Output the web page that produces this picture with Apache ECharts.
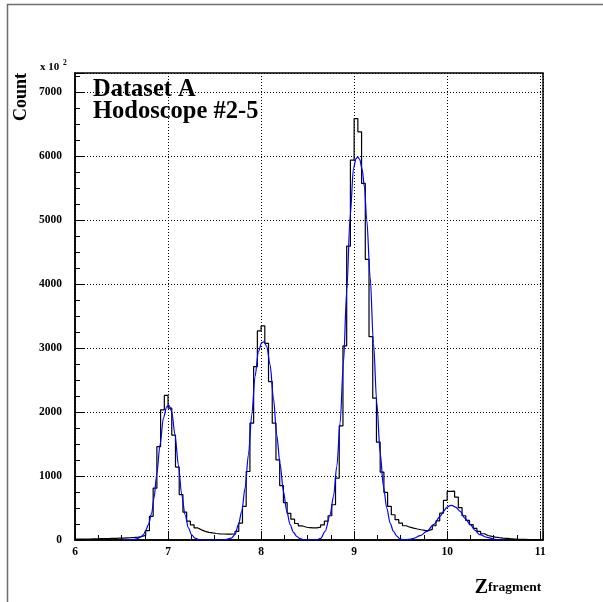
<!DOCTYPE html>
<html><head><meta charset="utf-8">
<script src="https://cdn.jsdelivr.net/npm/echarts@6/dist/echarts.min.js"></script>
<style>html,body{margin:0;padding:0;background:#fff}#c{width:603px;height:602px}</style>
</head><body><div id="c"></div>
<script>
// Histogram: bins of width 0.04 starting at 6.00
const binLow = 6.0;
const binWidth = 0.04;
const counts = [
  15, 15, 16, 16, 17, 18, 20, 20, 22, 24,
  26, 28, 30, 33, 36, 40, 45, 55, 72, 145,
  370, 810, 1460, 2035, 2260, 2060, 1640, 1140, 710, 435,
  295, 235, 188, 158, 135, 120, 110, 102, 97, 94,
  92, 92, 95, 134, 265, 525, 1071, 1826, 2711, 3268,
  3346, 3075, 2477, 1826, 1254, 850, 585, 415, 325, 258,
  222, 203, 192, 188, 190, 200, 235, 295, 379, 551,
  968, 1785, 3034, 4595, 5937, 6588, 6380, 5574, 4387, 3179,
  2217, 1530, 1062, 743, 525, 395, 317, 265, 223, 200,
  185, 172, 160, 150, 147, 165, 223, 300, 420, 620,
  759, 765, 671, 505, 379, 306, 239, 181, 134, 98,
  70, 56, 45, 36, 30, 25, 20, 16, 13, 11,
  9, 7, 6, 5, 4
];
// Fit curve
const fitX = [6.50, 6.58, 6.62, 6.66, 6.70, 6.735, 6.76, 6.789, 6.824, 6.849, 6.878, 6.914, 6.950, 6.986, 7.011, 7.039, 7.075, 7.111, 7.147, 7.183, 7.219, 7.254, 7.29, 7.33, 7.38, 7.45, 7.55, 7.62, 7.68, 7.72, 7.756, 7.792, 7.828, 7.864, 7.900, 7.935, 7.971, 8.007, 8.032, 8.061, 8.097, 8.133, 8.168, 8.204, 8.240, 8.276, 8.312, 8.348, 8.384, 8.42, 8.46, 8.50, 8.56, 8.60, 8.64, 8.688, 8.742, 8.778, 8.814, 8.849, 8.885, 8.921, 8.957, 8.993, 9.020, 9.040, 9.060, 9.085, 9.111, 9.136, 9.172, 9.208, 9.244, 9.280, 9.315, 9.351, 9.387, 9.423, 9.459, 9.495, 9.53, 9.566, 9.60, 9.638, 9.71, 9.78, 9.853, 9.925, 9.96, 9.997, 10.03, 10.05, 10.09, 10.14, 10.19, 10.25, 10.30, 10.35, 10.43, 10.50, 10.57, 10.62];
const fitY = [0, 2, 6, 18, 40, 80, 150, 240, 420, 655, 1020, 1490, 1905, 2086, 2105, 2008, 1644, 1175, 707, 395, 190, 80, 30, 8, 0, 0, 0, 5, 30, 83, 239, 447, 812, 1332, 1956, 2555, 2945, 3085, 3100, 3023, 2737, 2217, 1644, 1190, 760, 450, 240, 120, 55, 20, 5, 0, 0, 5, 25, 134, 395, 681, 1150, 1826, 2763, 3908, 5052, 5808, 5960, 5985, 5950, 5800, 5521, 5001, 4116, 3076, 2139, 1358, 837, 500, 265, 134, 60, 15, 5, 5, 12, 24, 67, 134, 239, 369, 447, 509, 536, 541, 515, 447, 343, 239, 150, 83, 41, 16, 0, 0];
const xTickLabels = [6, 7, 8, 9, 10, 11];
const yTickLabels = [0, 1000, 2000, 3000, 4000, 5000, 6000, 7000];

const histData = counts.map((v, i) => [+(binLow + i * binWidth).toFixed(2), v]);
histData.push([+(binLow + counts.length * binWidth).toFixed(2), counts[counts.length - 1]]);
const fitData = fitX.map((x, i) => [x, fitY[i]]);

const FONT = 'Liberation Serif';
const chart = echarts.init(document.getElementById('c'), null, {renderer: 'canvas'});
chart.setOption({
  animation: false,
  backgroundColor: '#fff',
  grid: {left: 75, top: 73, right: 60, bottom: 62, show: true, borderColor: '#000', borderWidth: 1.5, backgroundColor: 'transparent'},
  xAxis: {
    type: 'value', min: 6, max: 11.03, interval: 1,
    axisLine: {show: true, onZero: false, lineStyle: {color: '#000', width: 1.5}},
    axisTick: {show: true, inside: true, length: 9, lineStyle: {color: '#000', width: 1}},
    minorTick: {show: true, splitNumber: 4, length: 5, lineStyle: {color: '#000', width: 1}},
    splitLine: {show: true, lineStyle: {color: '#000', width: 1, type: [1, 2]}},
    minorSplitLine: {show: false},
    axisLabel: {
      margin: 6, color: '#000', fontFamily: FONT, fontWeight: 'bold', fontSize: 11.5,
      showMaxLabel: false,
      formatter: v => xTickLabels.indexOf(v) >= 0 ? String(v) : ''
    }
  },
  yAxis: {
    type: 'value', min: 0, max: 7300, interval: 1000,
    axisLine: {show: true, onZero: false, lineStyle: {color: '#000', width: 1.5}},
    axisTick: {show: true, inside: true, length: 9, lineStyle: {color: '#000', width: 1}},
    minorTick: {show: true, splitNumber: 4, length: 5, lineStyle: {color: '#000', width: 1}},
    splitLine: {show: true, lineStyle: {color: '#000', width: 1, type: [1, 2]}},
    minorSplitLine: {show: false},
    axisLabel: {
      margin: 13, color: '#000', fontFamily: FONT, fontWeight: 'bold', fontSize: 11.5,
      showMaxLabel: false,
      formatter: v => yTickLabels.indexOf(v) >= 0 ? String(v) : ''
    }
  },
  series: [
    {type: 'line', name: 'data', data: histData, step: 'end', symbol: 'none', z: 2,
     lineStyle: {color: '#000', width: 1.2}, silent: true},
    {type: 'line', name: 'fit', data: fitData, smooth: 0.3, smoothMonotone: 'x', symbol: 'none', z: 3,
     lineStyle: {color: '#0000ff', width: 1.2}, silent: true}
  ],
  graphic: [
    {type: 'rect', shape: {x: 7.5, y: 4.5, width: 700, height: 700}, style: {fill: 'none', stroke: '#6e6e6e', lineWidth: 1.5}, silent: true},
    {type: 'text', x: 93, y: 90, style: {text: 'Dataset A', font: 'bold 24.5px "Liberation Serif"', fill: '#000', align: 'left', verticalAlign: 'middle'}, z: 10},
    {type: 'text', x: 93, y: 112, style: {text: 'Hodoscope #2-5', font: 'bold 24.5px "Liberation Serif"', fill: '#000', align: 'left', verticalAlign: 'middle'}, z: 10},
    {type: 'text', x: 21, y: 97, rotation: Math.PI / 2, style: {text: 'Count', font: 'bold 18px "Liberation Serif"', fill: '#000', align: 'center', verticalAlign: 'middle'}},
    {type: 'text', x: 40, y: 67, style: {text: 'x 10', font: 'bold 11px "Liberation Serif"', fill: '#000', align: 'left', verticalAlign: 'middle'}},
    {type: 'text', x: 63, y: 63, style: {text: '2', font: 'bold 7.5px "Liberation Serif"', fill: '#000', align: 'left', verticalAlign: 'middle'}},
    {type: 'text', x: 488, y: 578, style: {text: 'Z', font: 'bold 20px "Liberation Serif"', fill: '#000', align: 'right', verticalAlign: 'alphabetic'}},
    {type: 'text', x: 488, y: 581, style: {text: 'fragment', font: 'bold 13.5px "Liberation Serif"', fill: '#000', align: 'left', verticalAlign: 'alphabetic'}}
  ]
});
</script></body></html>
